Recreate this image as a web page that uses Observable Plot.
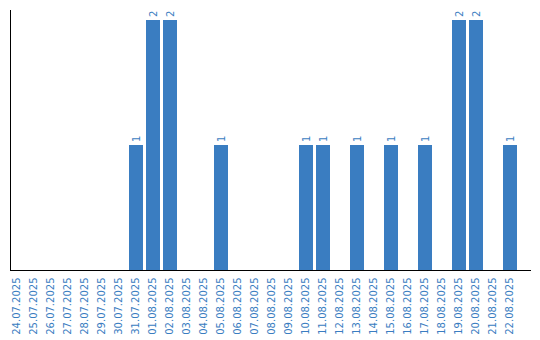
<!DOCTYPE html>
<html>
<head>
<meta charset="utf-8">
<script src="https://cdn.jsdelivr.net/npm/d3@7"></script>
<script src="https://cdn.jsdelivr.net/npm/@observablehq/plot@0.6"></script>
<style>
  html, body { margin: 0; padding: 0; background: #fff; }
</style>
</head>
<body>
<div id="chart"></div>
<script>
const dates = ["24.07.2025","25.07.2025","26.07.2025","27.07.2025","28.07.2025","29.07.2025","30.07.2025","31.07.2025","01.08.2025","02.08.2025","03.08.2025","04.08.2025","05.08.2025","06.08.2025","07.08.2025","08.08.2025","09.08.2025","10.08.2025","11.08.2025","12.08.2025","13.08.2025","14.08.2025","15.08.2025","16.08.2025","17.08.2025","18.08.2025","19.08.2025","20.08.2025","21.08.2025","22.08.2025"];
const counts = [0,0,0,0,0,0,0,1,2,2,0,0,1,0,0,0,0,1,1,0,1,0,1,0,1,0,2,2,0,1];

const data = dates.map((d, i) => ({date: d, count: counts[i]}));
const nonzero = data.filter(d => d.count > 0);
const blue = "#3a7dc1";

const chart = Plot.plot({
  width: 540,
  height: 340,
  marginLeft: 10,
  marginRight: 10,
  marginTop: 10,
  marginBottom: 70,
  style: {fontFamily: "DejaVu Sans, Verdana, sans-serif", fontSize: "10px", background: "#fff"},
  x: {domain: dates, paddingInner: 0.1765, paddingOuter: 0.382, align: 0, label: null},
  y: {domain: [0, 2.08], axis: null},
  marks: [
    Plot.barY(data, {x: "date", y: "count", fill: blue}),
    Plot.text(nonzero, {x: "date", y: "count", text: d => String(d.count), rotate: -90, textAnchor: "start", dy: -3.5, fill: blue, fontSize: 10}),
    Plot.axisX({tickRotate: -90, tickSize: 0, tickPadding: 7, fill: blue, fontSize: 10, label: null, dx: -1}),
    Plot.frame({anchor: "left", stroke: "#000"}),
    Plot.frame({anchor: "bottom", stroke: "#000"})
  ]
});
document.getElementById("chart").appendChild(chart);
</script>
</body>
</html>
